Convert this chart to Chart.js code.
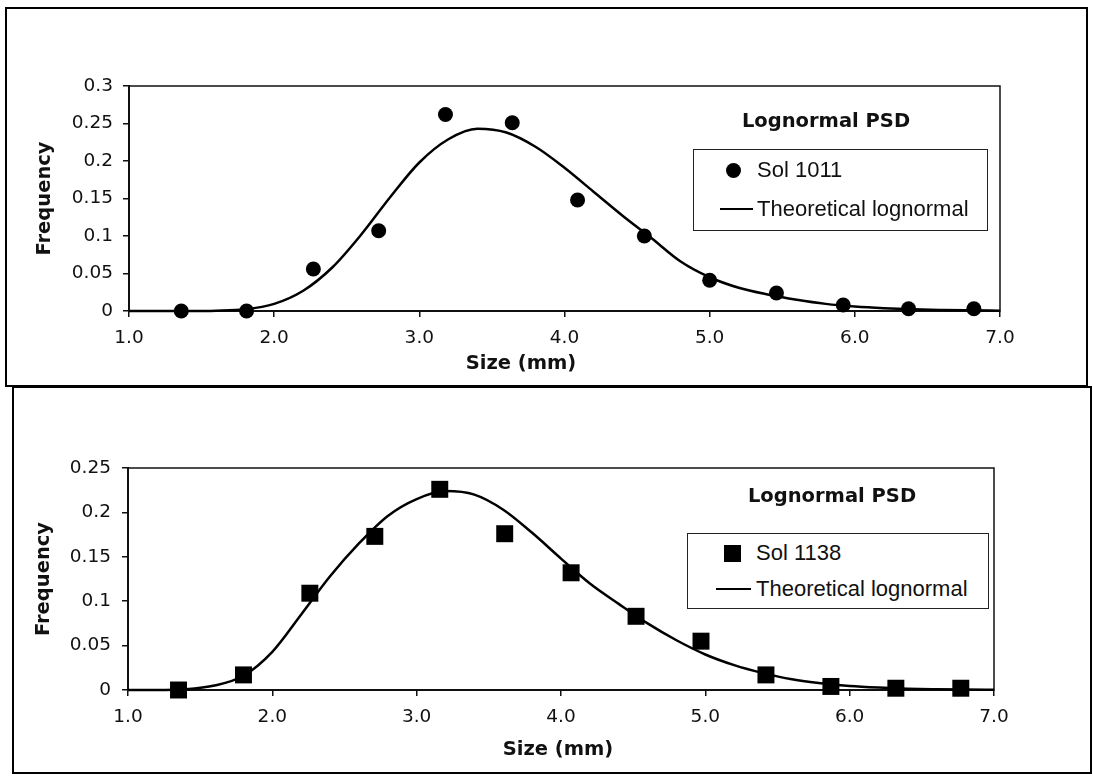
<!DOCTYPE html>
<html><head><meta charset="utf-8">
<script src="https://cdn.jsdelivr.net/npm/chart.js@4.4.1/dist/chart.umd.min.js"></script>
<style>
html,body{margin:0;padding:0;background:#fff;}
body{width:1093px;height:776px;position:relative;overflow:hidden;font-family:"DejaVu Sans",sans-serif;}
.box{position:absolute;border:2.5px solid #000;box-sizing:border-box;}
canvas{position:absolute;}
.ptitle{position:absolute;font:bold 19.5px "DejaVu Sans",sans-serif;transform:translate(-50%,-50%);white-space:nowrap;color:#111;}
.legend{position:absolute;border:1.5px solid #222;box-sizing:border-box;background:#fff;}
.lrow{position:absolute;font:22px "Liberation Sans",sans-serif;white-space:nowrap;color:#111;transform:translateY(-50%);}
.mk{position:absolute;background:#000;}
</style>
</head>
<body>
<div class="box" style="left:5px;top:7px;width:1083px;height:380px;"></div>
<div class="box" style="left:12px;top:386px;width:1080px;height:388px;"></div>
<canvas id="c1" width="1078" height="377" style="left:7px;top:9px;"></canvas>
<canvas id="c2" width="1075" height="381" style="left:14px;top:390px;"></canvas>
<div id="overlay"></div>
<script>
// ---- data ----
const xTickValues = [1, 2, 3, 4, 5, 6, 7];
const xTickLabels = ['1.0', '2.0', '3.0', '4.0', '5.0', '6.0', '7.0'];
const yTicksTop = [0, 0.05, 0.1, 0.15, 0.2, 0.25, 0.3];
const yTickLabelsTop = ['0', '0.05', '0.1', '0.15', '0.2', '0.25', '0.3'];
const yTicksBottom = [0, 0.05, 0.1, 0.15, 0.2, 0.25];
const yTickLabelsBottom = ['0', '0.05', '0.1', '0.15', '0.2', '0.25'];

const sizes1011 = [1.36, 1.81, 2.27, 2.72, 3.18, 3.64, 4.09, 4.55, 5.00, 5.46, 5.92, 6.37, 6.82];
const freq1011  = [0.000, 0.000, 0.056, 0.107, 0.262, 0.251, 0.148, 0.100, 0.041, 0.024, 0.008, 0.003, 0.003];

const curveX = [1.0, 1.2, 1.4, 1.6, 1.8, 2.0, 2.2, 2.4, 2.6, 2.8, 3.0, 3.2, 3.4, 3.6, 3.8, 4.0,
                4.2, 4.4, 4.6, 4.8, 5.0, 5.2, 5.4, 5.6, 5.8, 6.0, 6.2, 6.4, 6.6, 6.8, 7.0];
const curve1011 = [0, 0, 0.0000, 0.0004, 0.0023, 0.0095, 0.027, 0.058, 0.102, 0.152, 0.198, 0.229, 0.243, 0.238, 0.219, 0.191,
                   0.159, 0.127, 0.097, 0.066, 0.045, 0.031, 0.022, 0.015, 0.0095, 0.006, 0.0037, 0.0022, 0.0014, 0.0009, 0.0005];

const sizes1138 = [1.35, 1.80, 2.26, 2.71, 3.16, 3.61, 4.07, 4.52, 4.97, 5.42, 5.87, 6.32, 6.77];
const freq1138  = [0.000, 0.017, 0.109, 0.173, 0.226, 0.176, 0.132, 0.083, 0.055, 0.017, 0.004, 0.002, 0.002];
const curve1138 = [0, 0, 0.0008, 0.005, 0.016, 0.043, 0.085, 0.128, 0.165, 0.196, 0.215, 0.224, 0.220, 0.203, 0.177, 0.148,
                   0.120, 0.097, 0.075, 0.056, 0.040, 0.028, 0.019, 0.012, 0.0075, 0.0045, 0.0027, 0.0015, 0.0009, 0.0005, 0.0003];

const seriesLabels1 = ['Sol 1011', 'Theoretical lognormal'];
const seriesLabels2 = ['Sol 1138', 'Theoretical lognormal'];
const panelTitle = 'Lognormal PSD';
const xTitle = 'Size (mm)';
const yTitle = 'Frequency';

// ---- helpers ----
const pts = (xs, ys) => xs.map((x, i) => ({x: x, y: ys[i]}));

const frame = {
  id: 'frame',
  beforeDatasetsDraw(chart) {
    const a = chart.chartArea, ctx = chart.ctx;
    ctx.save();
    ctx.strokeStyle = '#111';
    ctx.lineWidth = 1.5;
    ctx.strokeRect(a.left, a.top, a.right - a.left, a.bottom - a.top);
    ctx.restore();
  }
};

function makeChart(id, cfg) {
  const tickFont = {family: 'DejaVu Sans', size: 18.5};
  const titleFont = {family: 'DejaVu Sans', size: 19.5, weight: 'bold'};
  return new Chart(document.getElementById(id), {
    type: 'scatter',
    data: {
      datasets: [
        {
          label: cfg.labels[0],
          data: pts(cfg.sx, cfg.sy),
          showLine: false,
          pointStyle: cfg.pointStyle,
          pointRadius: cfg.pointRadius,
          pointBackgroundColor: '#000',
          pointBorderWidth: 0,
          borderColor: '#000',
          clip: false,
          order: 0
        },
        {
          label: cfg.labels[1],
          data: pts(curveX, cfg.cy),
          showLine: true,
          pointRadius: 0,
          borderColor: '#000',
          borderWidth: 2.5,
          cubicInterpolationMode: 'monotone',
          clip: false,
          order: 1
        }
      ]
    },
    options: {
      responsive: false,
      devicePixelRatio: 1,
      animation: false,
      events: [],
      layout: {padding: {left: 0, top: cfg.padTop, right: cfg.padRight, bottom: 0}},
      plugins: {legend: {display: false}, tooltip: {enabled: false}},
      scales: {
        x: {
          type: 'linear', min: 1, max: 7,
          afterBuildTicks: s => { s.ticks = xTickValues.map(v => ({value: v})); },
          afterFit: s => { s.height = cfg.xH; },
          ticks: {font: tickFont, color: '#111', padding: cfg.xTickPad,
                  callback: (v, i) => xTickLabels[i]},
          grid: {display: true, drawOnChartArea: false, drawTicks: true, tickLength: 6, color: '#111', lineWidth: 1.5},
          border: {display: true, color: '#111', width: 2},
          title: {display: false}
        },
        y: {
          type: 'linear', min: 0, max: cfg.yTicks[cfg.yTicks.length - 1],
          afterBuildTicks: s => { s.ticks = cfg.yTicks.map(v => ({value: v})); },
          afterFit: s => { s.width = cfg.yW; },
          ticks: {font: tickFont, color: '#111', padding: cfg.yTickPad,
                  callback: (v, i) => cfg.yLabels[i]},
          grid: {display: true, drawOnChartArea: false, drawTicks: true, tickLength: 6, color: '#111', lineWidth: 1.5},
          border: {display: true, color: '#111', width: 2},
          title: {display: true, text: yTitle, font: titleFont, color: '#111',
                  padding: {top: cfg.yTitlePad, bottom: 0}}
        }
      }
    },
    plugins: [frame]
  });
}

makeChart('c1', {
  labels: seriesLabels1, sx: sizes1011, sy: freq1011, cy: curve1011,
  pointStyle: 'circle', pointRadius: 7.5,
  yTicks: yTicksTop, yLabels: yTickLabelsTop,
  padTop: 77, padRight: 85, xH: 75, yW: 122,
  xTickPad: 10, yTickPad: 10, yTitlePad: 26.5
});
makeChart('c2', {
  labels: seriesLabels2, sx: sizes1138, sy: freq1138, cy: curve1138,
  pointStyle: 'rect', pointRadius: 12,
  yTicks: yTicksBottom, yLabels: yTickLabelsBottom,
  padTop: 78, padRight: 95, xH: 81, yW: 114,
  xTickPad: 10, yTickPad: 11, yTitlePad: 18
});

// ---- in-plot titles, x-axis titles and legends (HTML text) ----
const ov = document.getElementById('overlay');
function add(html) { ov.insertAdjacentHTML('beforeend', html); }
function legend(p) {
  add(`<div class="ptitle" style="left:${p.tx}px;top:${p.ty}px;">${panelTitle}</div>`);
  add(`<div class="ptitle" style="left:${p.ax}px;top:${p.ay}px;">${xTitle}</div>`);
  add(`<div class="legend" style="left:${p.bx}px;top:${p.by}px;width:${p.bw}px;height:${p.bh}px;"></div>`);
  add(`<div class="mk" style="left:${p.mx - p.ms/2}px;top:${p.r1 - p.ms/2}px;width:${p.ms}px;height:${p.ms}px;border-radius:${p.round ? '50%' : '0'};"></div>`);
  add(`<div class="lrow" style="left:${p.txtx}px;top:${p.r1}px;">${p.labels[0]}</div>`);
  add(`<div class="mk" style="left:${p.lx1}px;top:${p.r2 - 1.25}px;width:${p.lx2 - p.lx1}px;height:2.5px;"></div>`);
  add(`<div class="lrow" style="left:${p.txtx}px;top:${p.r2}px;">${p.labels[1]}</div>`);
}
legend({tx: 826, ty: 120, ax: 521, ay: 362, bx: 693, by: 149, bw: 295, bh: 82, mx: 733, ms: 15, round: true,
        r1: 170, r2: 209, lx1: 720, lx2: 753, txtx: 757, labels: seriesLabels1});
legend({tx: 832, ty: 495, ax: 558, ay: 748, bx: 687, by: 533, bw: 302, bh: 76, mx: 732, ms: 17, round: false,
        r1: 553, r2: 589, lx1: 716, lx2: 751, txtx: 756, labels: seriesLabels2});
</script>
</body></html>
